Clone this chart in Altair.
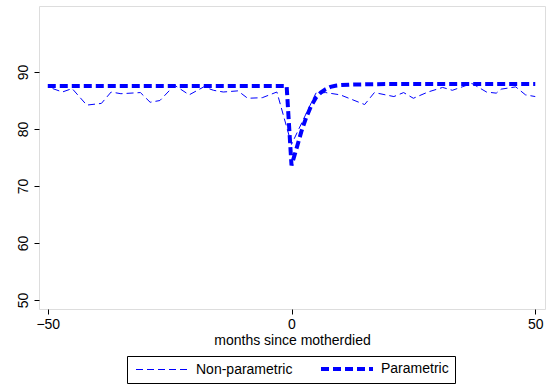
import altair as alt
import pandas as pd

np_months = [-49, -47, -45, -42, -39, -37, -35, -31, -29, -27, -24, -21, -18, -16, -14, -11, -9, -6, -3, 0,
             5, 7, 10, 15, 17, 21, 23, 25, 28, 31, 33, 35, 37, 40, 42, 43, 46, 48, 50]
np_vals = [87.1, 86.5, 87.1, 84.2, 84.5, 86.5, 86.2, 86.4, 84.7, 85.0, 87.7, 86.0, 87.4, 86.8, 86.5, 86.7, 85.4, 85.5, 86.5, 77.3,
           86.3, 86.4, 86.0, 84.3, 86.4, 85.7, 86.4, 85.4, 86.5, 87.3, 86.8, 87.4, 88.0, 86.5, 86.3, 87.0, 87.4, 86.0, 85.7]

p_months = [-50, -1, 0, 1, 2, 3, 4, 5, 6, 7, 8, 9, 10, 12, 15, 20, 30, 40, 50]
p_vals = [87.55, 87.55, 73.6, 76.5, 79.5, 82.0, 84.0, 85.5, 86.4, 87.0, 87.4, 87.6, 87.7, 87.8, 87.85, 87.9, 87.9, 87.9, 87.9]

series = ["Non-parametric", "Parametric"]
x_ticks = [-50, 0, 50]
y_ticks = [50, 60, 70, 80, 90]

df = pd.concat([
    pd.DataFrame({"month": np_months, "value": np_vals, "series": series[0], "order": range(len(np_months))}),
    pd.DataFrame({"month": p_months, "value": p_vals, "series": series[1], "order": range(len(p_months))}),
])

FONT = "Liberation Sans"

chart = alt.Chart(df).mark_line(clip=True).encode(
    x=alt.X("month:Q", scale=alt.Scale(domain=[-51.8, 52], nice=False, zero=False),
            axis=alt.Axis(values=x_ticks, title="months since motherdied", grid=False, domain=False,
                          tickSize=5, tickColor="black", labelColor="black", labelFontSize=14,
                          labelFont=FONT, titleFont=FONT, titleFontSize=14, titleFontWeight="normal",
                          titleColor="black", labelPadding=3, titlePadding=2, labelFlush=False)),
    y=alt.Y("value:Q", scale=alt.Scale(domain=[48.4, 101.6], nice=False, zero=False),
            axis=alt.Axis(values=y_ticks, title=None, grid=False, domain=False, tickSize=5,
                          tickColor="black", labelColor="black", labelFontSize=14, labelFont=FONT,
                          labelAngle=270, labelAlign="center", labelBaseline="bottom", labelPadding=4)),
    color=alt.Color("series:N", scale=alt.Scale(domain=series, range=["#0000ff", "#0000ff"]),
                    legend=alt.Legend(title=None, orient="none", direction="horizontal",
                                      legendX=88, legendY=350, strokeColor="black", padding=6,
                                      symbolType="M-1,0H12", symbolSize=64, labelOffset=49,
                                      labelFontSize=14, labelFont=FONT, labelColor="black",
                                      columnPadding=20, symbolStrokeColor="#0000ff",
                                      symbolOpacity=1)),
    strokeDash=alt.StrokeDash("series:N", scale=alt.Scale(domain=series, range=[[7, 4], [8, 4]])),
    strokeWidth=alt.StrokeWidth("series:N", scale=alt.Scale(domain=series, range=[1, 4])),
    order="order:Q",
).properties(
    width=506, height=303,
    padding={"left": 39, "top": 6, "right": 4, "bottom": 76},
    autosize=alt.AutoSizeParams(type="none"),
).configure_view(stroke="black", strokeWidth=1).configure(background="white")

chart.save("out.html", embed_options={"renderer": "svg", "actions": False})
